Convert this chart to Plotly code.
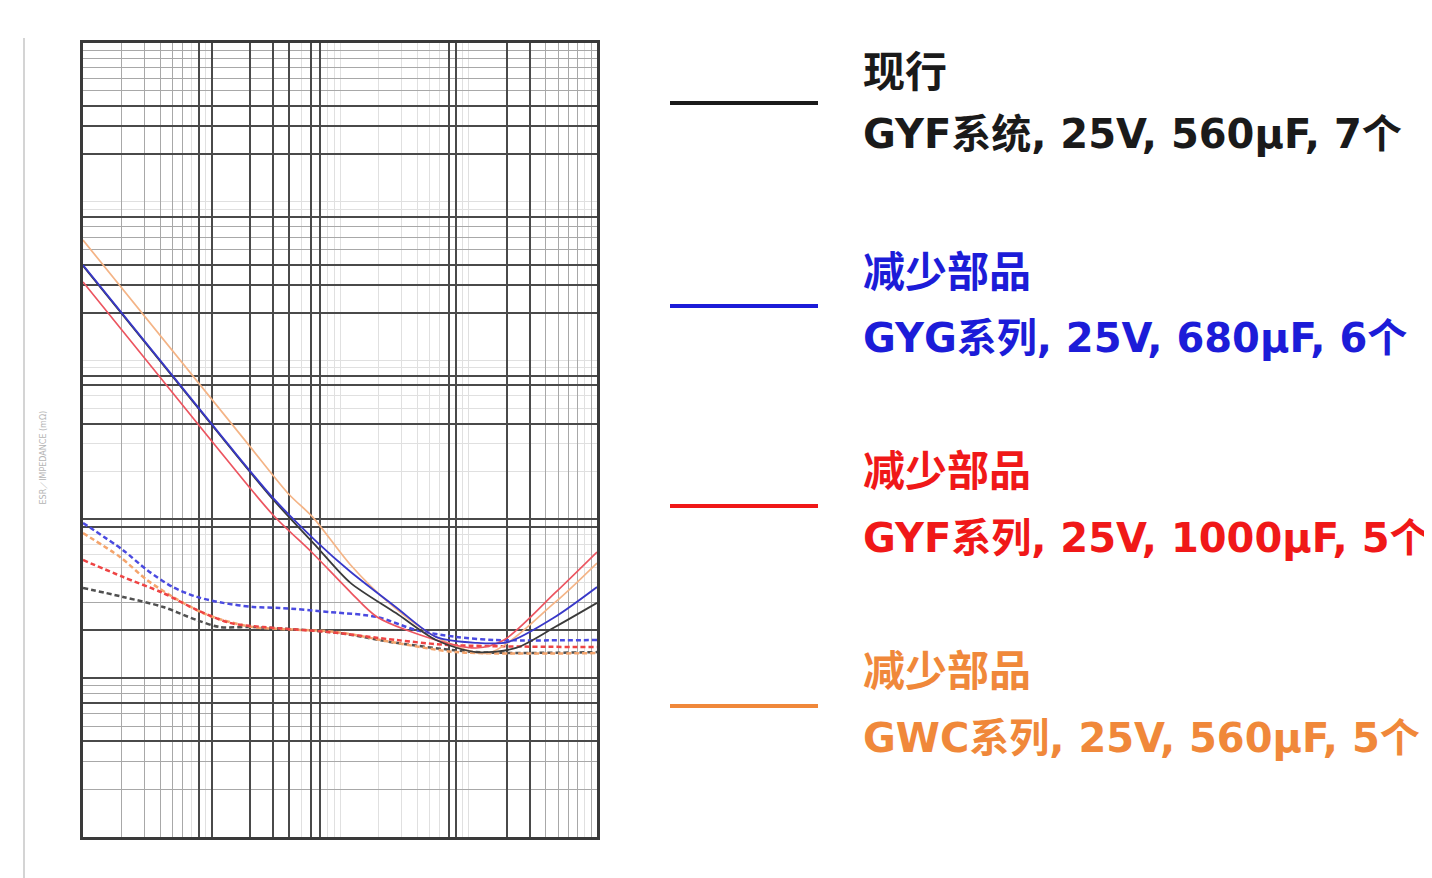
import plotly.graph_objects as go

# ---------------- data (frequency in Hz, values in mOhm) ----------------
# Impedance curves (solid)
imp_f_gyf560 = [10, 125, 300, 662, 1200, 2729, 5580, 11430, 23430, 47100, 100000]
imp_z_gyf560 = [3950, 316, 134, 67, 40, 25.7, 17.4, 14.6, 15.5, 21.0, 29.8]

imp_f_gyg680 = [10, 125, 300, 662, 1200, 2729, 5580, 11430, 20300, 47100, 100000]
imp_z_gyg680 = [4000, 320, 137, 72, 47, 28.0, 18.2, 16.7, 16.9, 24.3, 37.5]

imp_f_gyf1000 = [10, 97, 300, 616, 1200, 1942, 5580, 11430, 18890, 47100, 100000]
imp_z_gyf1000 = [3126, 322, 107, 61, 35, 24.3, 17.4, 15.5, 17.4, 34.4, 62.3]

imp_f_gwc560 = [10, 185, 400, 616, 1200, 2406, 5580, 14190, 47100, 100000]
imp_z_gwc560 = [5740, 310, 144, 103, 52, 29.8, 18.2, 14.4, 30.0, 53.1]

# ESR curves (dotted)
esr_f_gyf560 = [10, 20.5, 42, 77, 116, 210, 949, 2729, 11430, 100000]
esr_z_gyf560 = [37, 32.5, 28.1, 23.2, 21.0, 21.0, 19.3, 16.7, 14.6, 14.6]

esr_f_gyg680 = [10, 20.5, 31.5, 50, 77, 123, 210, 341, 836, 1942, 3902, 8000, 16370, 100000]
esr_z_gyg680 = [95, 64, 48, 37.5, 32.5, 29.8, 28.1, 27.7, 26.1, 24.3, 20.1, 18.2, 17.4, 17.4]

esr_f_gyf1000 = [10, 20.5, 42, 77, 139, 252, 836, 2729, 6920, 100000]
esr_z_gyf1000 = [55.5, 43.4, 34.4, 26.9, 22.3, 21.0, 19.5, 17.4, 16.2, 15.7]

esr_f_gwc560 = [10, 19.4, 31.5, 50, 86, 123, 210, 949, 2729, 8000, 100000]
esr_z_gwc560 = [82, 58, 41.5, 32.5, 25.7, 23.2, 21.0, 19.5, 16.7, 14.6, 14.4]

# grid lines (scanned log paper)
x_light = [m * 10 ** k for k in range(1, 5) for m in range(1, 10)] + [100000]
x_medium = [20, 30, 40, 50, 60, 40000, 50000, 60000, 70000, 90000]
x_dark = [80, 100, 200, 300, 400, 600, 700, 7000, 8000, 20000, 30000]

y_light = [m * 10 ** k for k in range(0, 5) for m in range(1, 10)] + [100000]
y_medium = [2, 3, 5, 6, 8, 9, 30, 5000, 6000, 7000, 50000, 60000, 70000, 80000, 90000]
y_dark = [4, 7, 10, 20, 90, 100, 400, 700, 800, 2000, 3000, 4000, 8000, 20000, 30000, 40000]

# legend texts
legend_titles = ["现行", "减少部品", "减少部品", "减少部品"]
legend_details = ["GYF系统, 25V, 560μF, 7个", "GYG系列, 25V, 680μF, 6个",
                  "GYF系列, 25V, 1000μF, 5个", "GWC系列, 25V, 560μF, 5个"]
legend_colors = ["#1a1a1a", "#1c1cd8", "#f01818", "#f0883a"]

# ---------------- figure ----------------
# page body has an 8px margin: the figure is sized and positioned to compensate
OFF = 8
W, H = 1432 - OFF, 878 - OFF


def px(x):
    return (x - OFF) / W


def py(y):
    return 1 - (y - OFF) / H


fig = go.Figure()

esr_series = [
    (esr_f_gyf560, esr_z_gyf560, "#505050"),
    (esr_f_gwc560, esr_z_gwc560, "#f4a46c"),
    (esr_f_gyf1000, esr_z_gyf1000, "#ee4444"),
    (esr_f_gyg680, esr_z_gyg680, "#4a4ae0"),
]
for f, z, c in esr_series:
    fig.add_trace(go.Scatter(x=f, y=z, mode="lines", xaxis="x", yaxis="y",
                             line=dict(color=c, width=2.5, dash="5px,3px", shape="spline", smoothing=0.8),
                             showlegend=False, hoverinfo="skip"))

imp_series = [
    (imp_f_gwc560, imp_z_gwc560, "#f4b486", 1.7),
    (imp_f_gyf1000, imp_z_gyf1000, "#ec5560", 1.7),
    (imp_f_gyf560, imp_z_gyf560, "#3a3a3a", 1.8),
    (imp_f_gyg680, imp_z_gyg680, "#3838c8", 1.8),
]
for f, z, c, w in imp_series:
    fig.add_trace(go.Scatter(x=f, y=z, mode="lines", xaxis="x2", yaxis="y2",
                             line=dict(color=c, width=w, shape="spline", smoothing=0.8),
                             showlegend=False, hoverinfo="skip"))

xdom = [px(83), px(597)]
ydom = [py(837), py(43)]

fig.update_layout(
    width=W, height=H,
    margin=dict(l=0, r=0, t=0, b=0),
    paper_bgcolor="white", plot_bgcolor="white",
    xaxis=dict(type="log", range=[1, 5], domain=xdom, anchor="y",
               tickmode="array", tickvals=x_medium, showticklabels=False, ticks="",
               showgrid=True, gridcolor="#a8a8a8", gridwidth=1.3, zeroline=False,
               minor=dict(tickmode="array", tickvals=x_light, showgrid=True,
                          gridcolor="#e0e0e0", gridwidth=1, ticks=""),
               showline=True, linecolor="#3a3a3a", linewidth=2.5, mirror=True),
    yaxis=dict(type="log", range=[0, 5], domain=ydom, anchor="x",
               tickmode="array", tickvals=y_medium, showticklabels=False, ticks="",
               showgrid=True, gridcolor="#a8a8a8", gridwidth=1.3, zeroline=False,
               minor=dict(tickmode="array", tickvals=y_light, showgrid=True,
                          gridcolor="#e0e0e0", gridwidth=1, ticks=""),
               showline=True, linecolor="#3a3a3a", linewidth=2.5, mirror=True),
    xaxis2=dict(type="log", range=[1, 5], domain=xdom, anchor="y2", overlaying="x",
                tickmode="array", tickvals=x_dark, showticklabels=False, ticks="",
                showgrid=True, gridcolor="#4a4a4a", gridwidth=1.8, zeroline=False,
                showline=False),
    yaxis2=dict(type="log", range=[0, 5], domain=ydom, anchor="x2", overlaying="y",
                tickmode="array", tickvals=y_dark, showticklabels=False, ticks="",
                showgrid=True, gridcolor="#4a4a4a", gridwidth=1.8, zeroline=False,
                showline=False),
)

# faint scan remnants: left border line and rotated axis title
fig.add_shape(type="line", xref="paper", yref="paper",
              x0=px(24), x1=px(24), y0=0, y1=py(38),
              line=dict(color="#d4d4d4", width=2))
fig.add_annotation(text="ESR／IMPEDANCE (mΩ)", xref="paper", yref="paper",
                   x=px(36), y=py(458), textangle=-90, showarrow=False,
                   font=dict(size=8, color="#b4b4b4", family="DejaVu Sans"))

# custom legend
line_y = [103, 306, 506, 706]
title_y = [68, 268, 467, 667]
detail_y = [134, 338, 538, 738]
for i in range(4):
    fig.add_shape(type="line", xref="paper", yref="paper",
                  x0=px(670), x1=px(818), y0=py(line_y[i]), y1=py(line_y[i]),
                  line=dict(color=legend_colors[i], width=4))
    fig.add_annotation(text=legend_titles[i], xref="paper", yref="paper",
                       x=px(861), y=py(title_y[i]), xanchor="left", yanchor="middle",
                       showarrow=False,
                       font=dict(size=42, color=legend_colors[i], family="Noto Sans CJK SC", weight=700))
    fig.add_annotation(text=legend_details[i], xref="paper", yref="paper",
                       x=px(861), y=py(detail_y[i]), xanchor="left", yanchor="middle",
                       showarrow=False,
                       font=dict(size=40, color=legend_colors[i], family="DejaVu Sans, Noto Sans CJK SC", weight=700))

fig.write_html("out.html")
